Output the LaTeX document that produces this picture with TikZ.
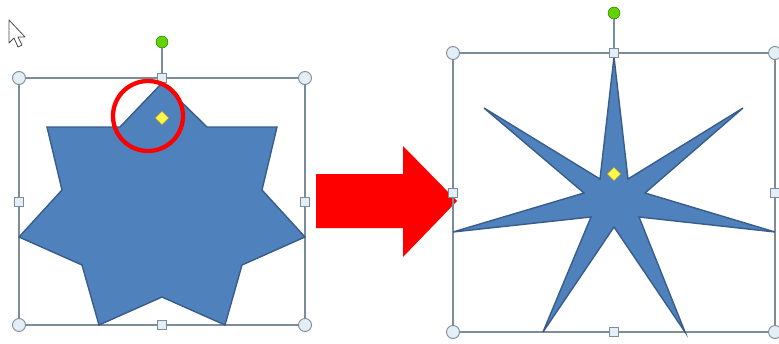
\documentclass[tikz,border=0pt]{standalone}
\usetikzlibrary{shapes.geometric}
\definecolor{stf}{RGB}{79,129,189}
\definecolor{std}{RGB}{56,93,138}
\definecolor{frm}{RGB}{125,140,155}
\definecolor{hdl}{RGB}{228,238,246}

\begin{document}
\begin{tikzpicture}[x=1pt,y=-1pt,
  box/.style={draw=frm,line width=1.2pt},
  sq/.style={draw=frm,fill=hdl,line width=0.9pt,rectangle,minimum size=9pt,inner sep=0pt},
  crn/.style={draw=frm,fill=hdl,line width=0.9pt,circle,minimum size=13pt,inner sep=0pt},
  rot/.style={draw=green!45!black,fill=green!70!black!60!yellow,circle,minimum size=12pt,inner sep=0pt},
  adj/.style={draw=yellow!55!black,fill=yellow!70!white,diamond,minimum size=14pt,inner sep=0pt,line width=0.6pt},
  starf/.style={fill=stf,draw=std,line width=1.4pt,line join=miter}]
  \useasboundingbox (0,0) rectangle (779,343);
  % before
  \draw[box] (19,78) rectangle (305,325);
  \draw[starf] (162,83)--(207,127)--(277,127)--(262,190)--(305,237)--(242,265)--(225,325)
    --(162,297)--(99,325)--(82,265)--(19,237)--(62,190)--(47,127)--(120,127)--cycle;
  \node[sq] (lt) at (162,78) {}; \node[sq] (lb) at (162,325) {};
  \node[sq] (ll) at (19,202) {}; \node[sq] (lr) at (305,202) {};
  \node[crn] at (19,78) {}; \node[crn] at (305,78) {};
  \node[crn] at (19,325) {}; \node[crn] at (305,325) {};
  \node[rot] (lrot) at (162,42) {};
  \draw[frm,line width=1.2pt] (lrot)--(lt);
  \node[adj] (ladj) at (162,118) {};
  \draw[red,line width=4.3pt] (148,116) circle (35);
  % cursor
  \draw[black!70,fill=white,line width=0.8pt,line join=round] (9,20)--(9,43)--(14,38)--(18,47)--(22,45)--(18,37)--(25,37)--cycle;
  % arrow
  \fill[red] (316,174)--(403,174)--(403,146)--(457,201)--(403,257)--(403,228)--(316,228)--cycle;
  % after
  \draw[box] (453,53) rectangle (775,332);
  \draw[starf] (614,57)--(628,179)--(743,108)--(645,193)--(775,232)--(639,217)--(685,332)
    --(614,227)--(543,332)--(591,217)--(453,232)--(584,193)--(484,108)--(600,179)--cycle;
  \node[sq] (rt) at (614,53) {}; \node[sq] (rb) at (614,332) {};
  \node[sq] (rl) at (453,193) {}; \node[sq] (rr) at (775,193) {};
  \node[crn] at (453,53) {}; \node[crn] at (775,53) {};
  \node[crn] at (453,332) {}; \node[crn] at (775,332) {};
  \node[rot] (rrot) at (614,13) {};
  \draw[frm,line width=1.2pt] (rrot)--(rt);
  \node[adj] (radj) at (614,174) {};
\end{tikzpicture}
\end{document}
